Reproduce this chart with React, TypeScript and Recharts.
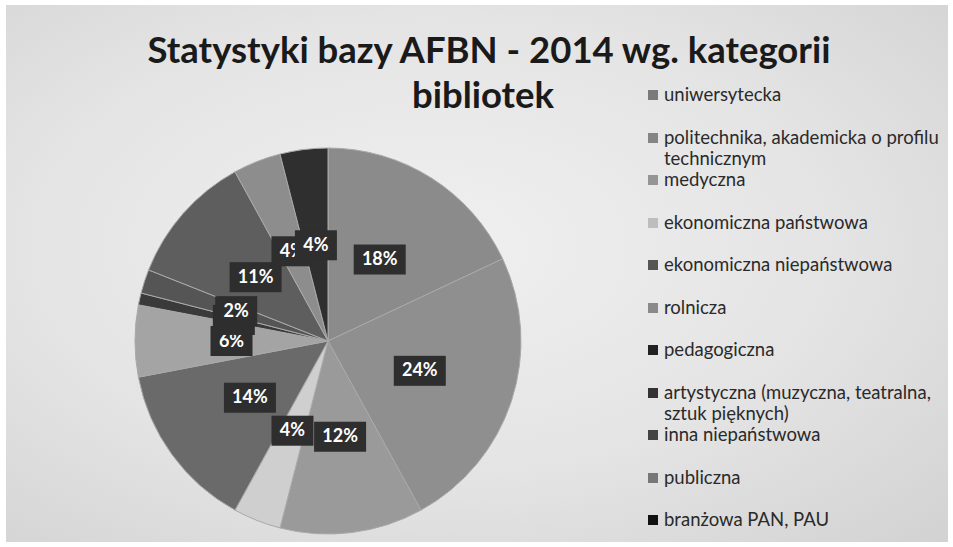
import React from 'react';
import { PieChart, Pie, Cell, Legend, Tooltip } from 'recharts';

const categories = [
  'uniwersytecka',
  'politechnika, akademicka o profilu technicznym',
  'medyczna',
  'ekonomiczna państwowa',
  'ekonomiczna niepaństwowa',
  'rolnicza',
  'pedagogiczna',
  'artystyczna (muzyczna, teatralna, sztuk pięknych)',
  'inna niepaństwowa',
  'publiczna',
  'branżowa PAN, PAU',
];

const shares = [18, 24, 12, 4, 14, 6, 1, 2, 11, 4, 4];

const sliceColors = [
  '#8b8b8b', '#8f8f8f', '#9a9a9a', '#cfcfcf', '#6a6a6a', '#a4a4a4',
  '#3a3a3a', '#555555', '#5e5e5e', '#8d8d8d', '#2f2f2f',
];

const legendColors = [
  '#7a7a7a', '#858585', '#959595', '#bdbdbd', '#555555', '#8a8a8a',
  '#222222', '#333333', '#444444', '#777777', '#111111',
];

const titleLines = ['Statystyki bazy AFBN - 2014 wg. kategorii', 'bibliotek'];

const data = categories.map((name, i) => ({ name, value: shares[i] }));

const RADIAN = Math.PI / 180;

function renderLabel(props: any) {
  const { cx, cy, midAngle, outerRadius, percent } = props;
  const r = outerRadius * 0.5;
  const x = cx + r * Math.cos(-midAngle * RADIAN);
  const y = cy + r * Math.sin(-midAngle * RADIAN);
  const text = `${Math.round(percent * 100)}%`;
  const w = text.length > 2 ? 52 : 42;
  return (
    <g>
      <rect x={x - w / 2} y={y - 15} width={w} height={30} fill="#2e2e2e" />
      <text
        x={x}
        y={y + 1}
        fill="#ffffff"
        fontSize={18}
        fontWeight={700}
        fontFamily="Lato, 'Open Sans', sans-serif"
        textAnchor="middle"
        dominantBaseline="middle"
      >
        {text}
      </text>
    </g>
  );
}

function LegendContent() {
  return (
    <div style={{ fontFamily: "Lato, 'Open Sans', sans-serif", fontSize: 18.5, color: '#2a2a2a' }}>
      {categories.map((name, i) => (
        <div key={name} style={{ position: 'relative', height: 42.5 }}>
          <span
            style={{
              position: 'absolute',
              left: 0,
              top: 5,
              width: 10,
              height: 10,
              background: legendColors[i],
            }}
          />
          <div style={{ position: 'absolute', left: 16, top: -1, width: 286, lineHeight: '21px' }}>
            {name}
          </div>
        </div>
      ))}
    </div>
  );
}

export default function App() {
  return (
    <div
      style={{
        position: 'absolute',
        left: 0,
        top: 0,
        width: 953,
        height: 547,
        background: '#ffffff',
      }}
    >
      <div
        style={{
          position: 'absolute',
          left: 6,
          top: 5,
          width: 942,
          height: 537,
          background: 'radial-gradient(ellipse at 45% 45%, #f0f0f0 0%, #e4e4e4 55%, #d2d2d2 100%)',
        }}
      >
        <div
          style={{
            position: 'absolute',
            left: 118,
            top: 22,
            width: 730,
            fontFamily: "Lato, 'Open Sans', sans-serif",
            fontWeight: 700,
            fontSize: 36.5,
            lineHeight: '45px',
            color: '#1a1a1a',
          }}
        >
          {titleLines.map((line, i) => (
            <div key={line} style={{ width: 'fit-content', margin: '0 auto', position: 'relative', left: i === 1 ? -6 : 0 }}>
              {line}
            </div>
          ))}
        </div>
        <PieChart width={942} height={537}>
          <Pie
            data={data}
            dataKey="value"
            nameKey="name"
            cx={317}
            cy={331}
            outerRadius={193}
            startAngle={90}
            endAngle={-270}
            stroke="#a9a9a9"
            strokeWidth={1}
            label={renderLabel}
            labelLine={false}
            isAnimationActive={false}
          >
            {data.map((d, i) => (
              <Cell key={d.name} fill={sliceColors[i]} />
            ))}
          </Pie>
          <Tooltip />
          <Legend
            content={<LegendContent />}
            wrapperStyle={{ position: 'absolute', left: 642, top: 80, width: 300 }}
          />
        </PieChart>
      </div>
    </div>
  );
}
